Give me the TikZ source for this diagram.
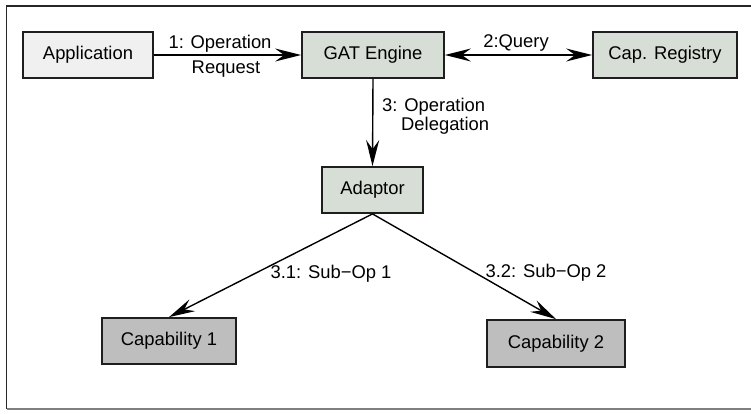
\documentclass[tikz,border=0pt]{standalone}
\usepackage{fontspec}
\setmainfont{Liberation Sans}
\usetikzlibrary{arrows.meta}
\definecolor{appfill}{RGB}{240,240,240}
\definecolor{engfill}{RGB}{214,222,214}
\definecolor{capfill}{RGB}{190,190,190}
\definecolor{boxline}{RGB}{30,30,30}
\definecolor{framegray}{RGB}{128,128,128}
\tikzset{
  box/.style={draw=boxline, line width=1.8pt, inner sep=0pt, font=\fontsize{18.4}{22}\selectfont},
  lbl/.style={inner sep=0pt, font=\fontsize{18.4}{22}\selectfont},
  conn/.style={line width=1.4pt, -{Stealth[length=26pt,width=13pt,inset=9pt]}},
  biconn/.style={line width=1.4pt, {Stealth[length=26pt,width=13pt,inset=9pt]}-{Stealth[length=26pt,width=13pt,inset=9pt]}},
}
\begin{document}
\begin{tikzpicture}[x=1pt,y=-1pt]
\useasboundingbox (0,0) rectangle (751,413);
% frame
\coordinate (ftl) at (6.5,6);
\coordinate (ftr) at (751,6);
\coordinate (fbl) at (6.5,409);
\coordinate (fbr) at (751,409);
\draw[line width=1.3pt, black!85] (ftr) -- (ftl) -- (fbl);
\draw[line width=2pt, framegray] (fbl) -- (fbr);
% boxes
\node[box, fill=appfill, minimum width=130pt, minimum height=46pt] (app) at (88,55) {Application};
\node[box, fill=engfill, minimum width=142pt, minimum height=46pt] (gat) at (373,55) {GAT Engine};
\node[box, fill=engfill, minimum width=144pt, minimum height=46pt] (reg) at (665,55) {Cap. Registry};
\node[box, fill=engfill, minimum width=101pt, minimum height=46pt] (adp) at (372.5,190) {Adaptor};
\node[box, fill=capfill, minimum width=134pt, minimum height=46pt] (cap1) at (169,341) {Capability 1};
\node[box, fill=capfill, minimum width=138pt, minimum height=47pt] (cap2) at (556,343.5) {Capability 2};
% connectors
\draw[conn] (app.east) -- (gat.west);
\draw[biconn] (gat.east) -- (reg.west);
\draw[conn] (gat.south) -- (adp.north);
\draw[conn] (adp.south) -- (cap1.north);
\draw[conn] (adp.south) -- (cap2.north);
% labels
\node[lbl] (l1a) at (220,44) {1: Operation};
\node[lbl] (l1b) at (226,69) {Request};
\node[lbl] (l2) at (516,43) {2:Query};
\node[lbl, anchor=west] (l3a) at (382,107) {3: Operation};
\node[lbl, anchor=west] (l3b) at (401,126) {Delegation};
\node[lbl] (l31) at (331,274) {3.1: Sub\textminus Op 1};
\node[lbl] (l32) at (546,273) {3.2: Sub\textminus Op 2};
\end{tikzpicture}
\end{document}
